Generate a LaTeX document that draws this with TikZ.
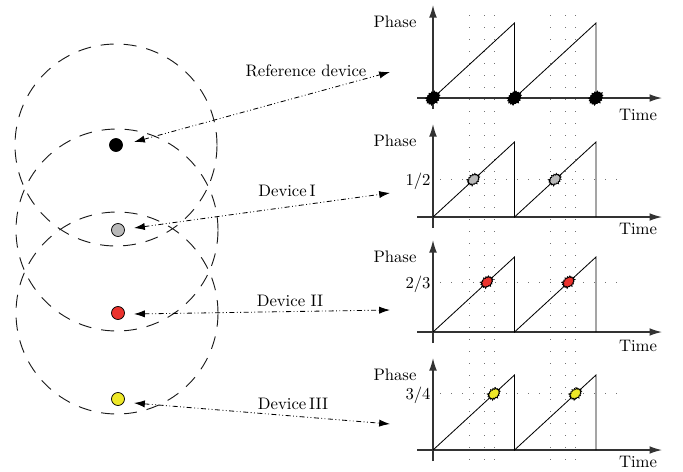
\documentclass[tikz,border=0pt]{standalone}
\usetikzlibrary{arrows.meta,shapes.symbols}
\definecolor{devgray}{RGB}{185,185,185}
\definecolor{devred}{RGB}{235,50,45}
\definecolor{devyellow}{RGB}{238,232,40}
\begin{document}
\begin{tikzpicture}[x=0.6pt,y=-0.6pt,
  rangecirc/.style={draw=black!90,line width=0.55pt,dash pattern=on 7.8pt off 6pt},
  devdot/.style={circle,draw=black,line width=0.45pt,minimum size=7.8pt,inner sep=0pt},
  linkarrow/.style={line width=0.5pt,dash pattern=on 3pt off 1.5pt on 0.5pt off 1.5pt on 0.5pt off 1.5pt,{Latex[length=6.5pt,width=4.3pt]}-{Latex[length=6.5pt,width=4.3pt]}},
  axisline/.style={line width=0.75pt,black!80,-{Latex[length=7.5pt,width=4.6pt]}},
  sawline/.style={line width=0.5pt},
  vgridline/.style={black!55,line width=0.6pt,dash pattern=on 0.6pt off 6.6pt},
  hgridline/.style={black!55,line width=0.6pt,dash pattern=on 0.6pt off 6pt},
  burstmark/.style={starburst,starburst points=16,starburst point height=1.2pt,draw=black,line width=0.5pt,minimum width=9pt,minimum height=7pt,inner sep=0pt,rotate=40},
  lbl/.style={inner sep=0pt}]
\useasboundingbox (0,0) rectangle (683,471);

% coverage ranges
\draw[rangecirc] (116,145) circle[radius=60.6pt];
\draw[rangecirc] (117,230) circle[radius=60.6pt];
\draw[rangecirc] (117,313) circle[radius=60.6pt];

% devices
\node[devdot,fill=black] (d0) at (116,145) {};
\node[devdot,fill=devgray] (d1) at (118,230) {};
\node[devdot,fill=devred] (d2) at (118,313) {};
\node[devdot,fill=devyellow] (d3) at (118,399) {};

% vertical dotted grid
\foreach \gx [count=\k] in {469,484,494,550,565,575}{
  \coordinate (gt\k) at (\gx,15);
  \coordinate (gb\k) at (\gx,463);
  \draw[vgridline] (gt\k) -- (gb\k);
}

% panels
\foreach \B/\T/\n/\tl in {98/5/0/115,217/124/1/229,332/240/2/346,450/358/3/462}{
  \coordinate (yb\n) at (433,\B+11);
  \coordinate (yt\n) at (433,\T);
  \coordinate (xl\n) at (417,\B);
  \coordinate (xr\n) at (662,\B);
  \draw[axisline] (yb\n) -- (yt\n);
  \draw[axisline] (xl\n) -- (xr\n);
  \coordinate (s0\n) at (433,\B);
  \coordinate (s1\n) at (514.5,\B-75);
  \coordinate (s2\n) at (514.5,\B);
  \coordinate (s3\n) at (596,\B-75);
  \coordinate (s4\n) at (596,\B);
  \draw[sawline] (s0\n) -- (s1\n) -- (s2\n) -- (s3\n) -- (s4\n);
  \node[lbl] (ph\n) at (395,\T+17) {Phase};
  \node[lbl] (tm\n) at (638,\tl) {Time};
}

% phase levels
\coordinate (h1a) at (440,179.5); \coordinate (h1b) at (620,179.5);
\coordinate (h2a) at (440,282); \coordinate (h2b) at (620,282);
\coordinate (h3a) at (440,393.75); \coordinate (h3b) at (620,393.75);
\draw[hgridline] (h1a) -- (h1b);
\draw[hgridline] (h2a) -- (h2b);
\draw[hgridline] (h3a) -- (h3b);
\node[lbl] (f1) at (418,181) {1/2};
\node[lbl] (f2) at (418,284) {2/3};
\node[lbl] (f3) at (418,395) {3/4};

% firing events
\node[burstmark,fill=black,minimum width=10pt,minimum height=8pt] (b01) at (433,98) {};
\node[burstmark,fill=black,minimum width=10pt,minimum height=8pt] (b02) at (514.5,98) {};
\node[burstmark,fill=black,minimum width=10pt,minimum height=8pt] (b03) at (596,98) {};
\node[burstmark,fill=devgray] (b11) at (473.5,179.5) {};
\node[burstmark,fill=devgray] (b12) at (555,179.5) {};
\node[burstmark,fill=devred] (b21) at (487,282) {};
\node[burstmark,fill=devred] (b22) at (568.5,282) {};
\node[burstmark,fill=devyellow] (b31) at (494,393.75) {};
\node[burstmark,fill=devyellow] (b32) at (575.5,393.75) {};

% links
\coordinate (l0) at (134,142); \coordinate (r0) at (390,72);
\coordinate (l1) at (134,228); \coordinate (r1) at (390,193);
\coordinate (l2) at (134,314); \coordinate (r2) at (390,310);
\coordinate (l3) at (134,403); \coordinate (r3) at (390,424);
\draw[linkarrow] (l0) -- (r0);
\draw[linkarrow] (l1) -- (r1);
\draw[linkarrow] (l2) -- (r2);
\draw[linkarrow] (l3) -- (r3);
\node[lbl] (n0) at (306,71) {Reference device};
\node[lbl] (n1) at (287,191) {Device\,I};
\node[lbl] (n2) at (290,301) {Device II};
\node[lbl] (n3) at (293,404) {Device\,III};
\end{tikzpicture}
\end{document}
